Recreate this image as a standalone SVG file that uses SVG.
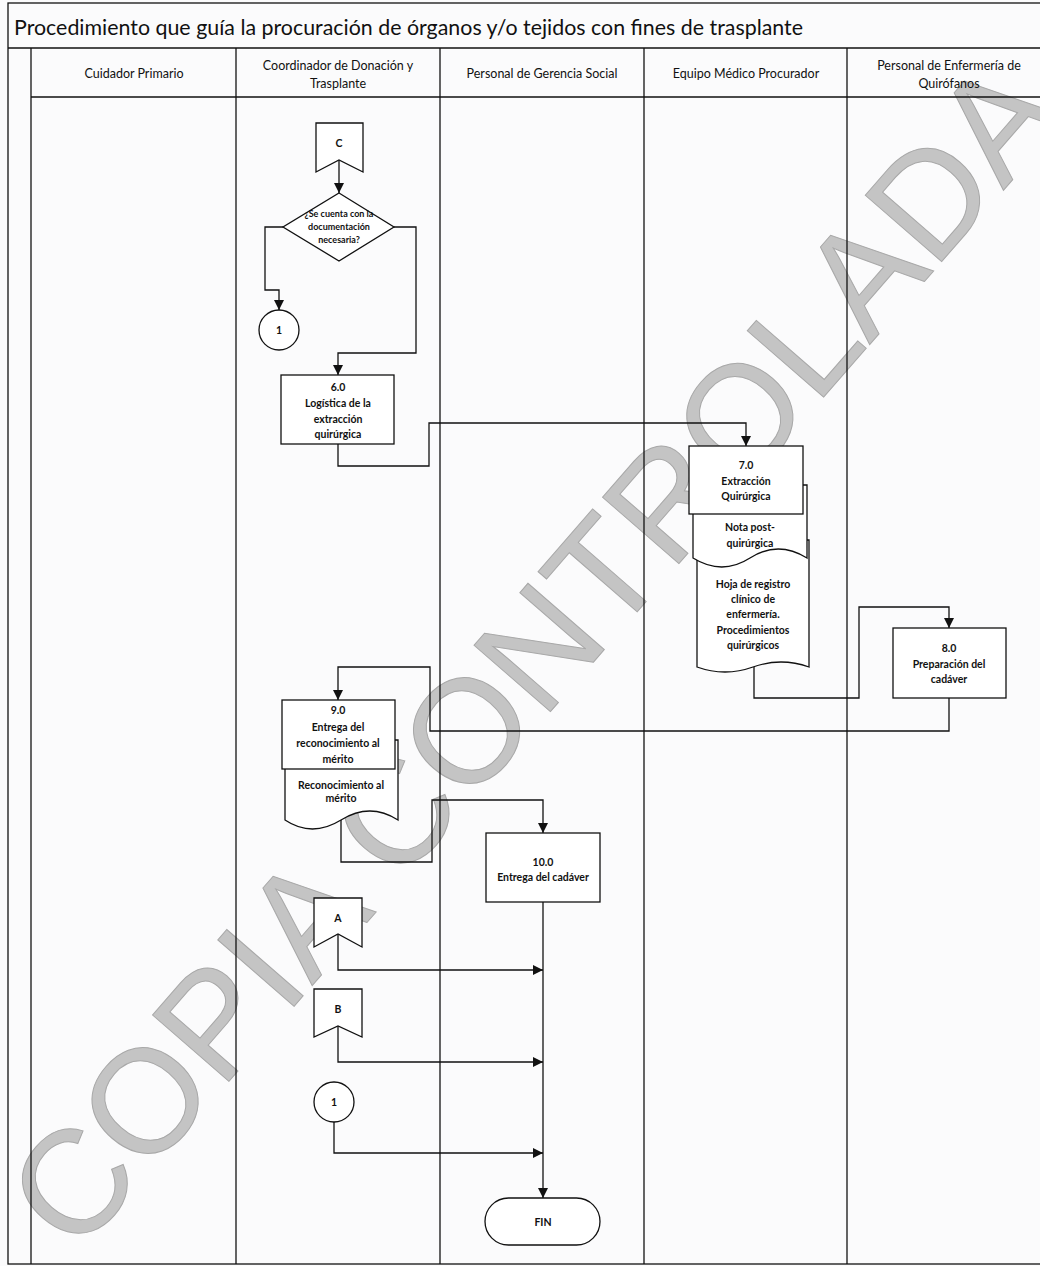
<svg xmlns="http://www.w3.org/2000/svg" width="1040" height="1266" viewBox="0 0 1040 1266">
<style>
.ln{stroke:#111;stroke-width:1.3;fill:none}
.bx{stroke:#111;stroke-width:1.3;fill:#fff}
.t{font-family:Lato,"Liberation Sans",Arial,sans-serif;font-size:10.5px;font-weight:bold;fill:#111;text-anchor:middle}
.h{font-family:Lato,"Liberation Sans",Arial,sans-serif;font-size:12.5px;fill:#111;text-anchor:middle}
.s{font-family:Lato,"Liberation Sans",Arial,sans-serif;font-size:9px;font-weight:bold;fill:#111;text-anchor:middle}
.c{stroke:#111;stroke-width:1.3;fill:none;marker-end:url(#ah)}
</style>
<defs>
<marker id="ah" markerUnits="userSpaceOnUse" markerWidth="10" markerHeight="10" refX="10" refY="5" orient="auto">
<path d="M0,0 L10,5 L0,10 z" fill="#111"/>
</marker>
</defs>
<rect width="1040" height="1266" fill="#fbfbfc"/>
<g id="watermark">
<text transform="translate(532,652) rotate(-49)" x="0" y="53" text-anchor="middle" font-family="Liberation Sans, Arial, sans-serif" font-size="147" fill="#c4c4c4" stroke="#a8a8a8" stroke-width="1">COPIA CONTROLADA</text>
</g>
<g id="frame">
<rect x="8" y="3" width="1045" height="1261" class="ln" stroke-width="1.6"/>
<line x1="8" y1="48" x2="1040" y2="48" class="ln" stroke-width="1.6"/>
<line x1="31" y1="97" x2="1040" y2="97" class="ln" stroke-width="1.6"/>
<line x1="31" y1="48" x2="31" y2="1264" class="ln"/>
<line x1="236" y1="48" x2="236" y2="1264" class="ln"/>
<line x1="440" y1="48" x2="440" y2="1264" class="ln"/>
<line x1="644" y1="48" x2="644" y2="1264" class="ln"/>
<line x1="847" y1="48" x2="847" y2="1264" class="ln"/>
<text x="14" y="35" font-family="Lato, Liberation Sans, Arial, sans-serif" font-size="22" fill="#111" textLength="789" lengthAdjust="spacingAndGlyphs">Procedimiento que guía la procuración de órganos y/o tejidos con fines de trasplante</text>
<text class="h" x="134" y="78">Cuidador Primario</text>
<text class="h" x="338" y="70">Coordinador de Donación y</text>
<text class="h" x="338" y="88">Trasplante</text>
<text class="h" x="542" y="78">Personal de Gerencia Social</text>
<text class="h" x="746" y="78">Equipo Médico Procurador</text>
<text class="h" x="949" y="70">Personal de Enfermería de</text>
<text class="h" x="949" y="88">Quirófanos</text>
</g>
<g id="connectors">
<path class="c" d="M339,160 L339,193"/>
<path class="c" d="M283,227 L265,227 L265,290 L279,290 L279,310"/>
<path class="c" d="M394,227 L416,227 L416,353 L338,353 L338,375"/>
<path class="c" d="M338,444 L338,466 L429,466 L429,423 L746,423 L746,446"/>
<path class="c" d="M754,667 L754,698 L859,698 L859,607 L949,607 L949,628"/>
<path class="c" d="M949,698 L949,731 L430,731 L430,667 L338,667 L338,700"/>
<path class="c" d="M341,820 L341,862 L432,862 L432,800 L543,800 L543,833"/>
<path class="c" d="M543,902 L543,1198"/>
<path class="c" d="M338,934 L338,970 L543,970"/>
<path class="c" d="M338,1026 L338,1062 L543,1062"/>
<path class="c" d="M334,1122 L334,1153 L543,1153"/>
</g>
<g id="nodeC">
<polygon class="bx" points="316,123 363,123 363,172 339,160 316,172"/>
<text class="t" x="339" y="147">C</text>
</g>
<g id="decision">
<polygon class="bx" points="339,193 394,227 339,261 283,227"/>
<text class="s" x="339" y="217">¿Se cuenta con la</text>
<text class="s" x="339" y="230">documentación</text>
<text class="s" x="339" y="243">necesaria?</text>
</g>
<g id="conn1top">
<circle class="bx" cx="279" cy="330" r="20"/>
<text class="t" x="279" y="334">1</text>
</g>
<g id="n6">
<rect class="bx" x="281" y="375" width="113" height="69"/>
<text class="t" x="338" y="391">6.0</text>
<text class="t" x="338" y="407">Logística de la</text>
<text class="t" x="338" y="423">extracción</text>
<text class="t" x="338" y="438">quirúrgica</text>
</g>
<g id="n7">
<path class="bx" d="M697,540 L809,540 L809,667 Q781,657 753,667 T697,667 Z"/>
<text class="t" x="753" y="588">Hoja de registro</text>
<text class="t" x="753" y="603">clínico de</text>
<text class="t" x="753" y="618">enfermería.</text>
<text class="t" x="753" y="634">Procedimientos</text>
<text class="t" x="753" y="649">quirúrgicos</text>
<path class="bx" d="M693,485 L807,485 L807,558 Q778,540 750,558 T693,558 Z"/>
<text class="t" x="750" y="531">Nota post-</text>
<text class="t" x="750" y="547">quirúrgica</text>
<rect class="bx" x="689" y="446" width="114" height="68"/>
<text class="t" x="746" y="469">7.0</text>
<text class="t" x="746" y="485">Extracción</text>
<text class="t" x="746" y="500">Quirúrgica</text>
</g>
<g id="n8">
<rect class="bx" x="893" y="628" width="113" height="70"/>
<text class="t" x="949" y="652">8.0</text>
<text class="t" x="949" y="668">Preparación del</text>
<text class="t" x="949" y="683">cadáver</text>
</g>
<g id="n9">
<path class="bx" d="M285,740 L398,740 L398,820 Q370,802 341,820 T285,820 Z"/>
<text class="t" x="341" y="789">Reconocimiento al</text>
<text class="t" x="341" y="802">mérito</text>
<rect class="bx" x="282" y="700" width="113" height="69"/>
<text class="t" x="338" y="714">9.0</text>
<text class="t" x="338" y="731">Entrega del</text>
<text class="t" x="338" y="747">reconocimiento al</text>
<text class="t" x="338" y="763">mérito</text>
</g>
<g id="n10">
<rect class="bx" x="486" y="833" width="114" height="69"/>
<text class="t" x="543" y="866">10.0</text>
<text class="t" x="543" y="881">Entrega del cadáver</text>
</g>
<g id="nodeA">
<polygon class="bx" points="314,898 362,898 362,947 338,934 314,947"/>
<text class="t" x="338" y="922">A</text>
</g>
<g id="nodeB">
<polygon class="bx" points="314,989 362,989 362,1037 338,1026 314,1037"/>
<text class="t" x="338" y="1013">B</text>
</g>
<g id="conn1bottom">
<circle class="bx" cx="334" cy="1102" r="20"/>
<text class="t" x="334" y="1106">1</text>
</g>
<g id="fin">
<rect class="bx" x="485" y="1198" width="115" height="47" rx="23.5"/>
<text class="t" x="543" y="1226">FIN</text>
</g>
</svg>
